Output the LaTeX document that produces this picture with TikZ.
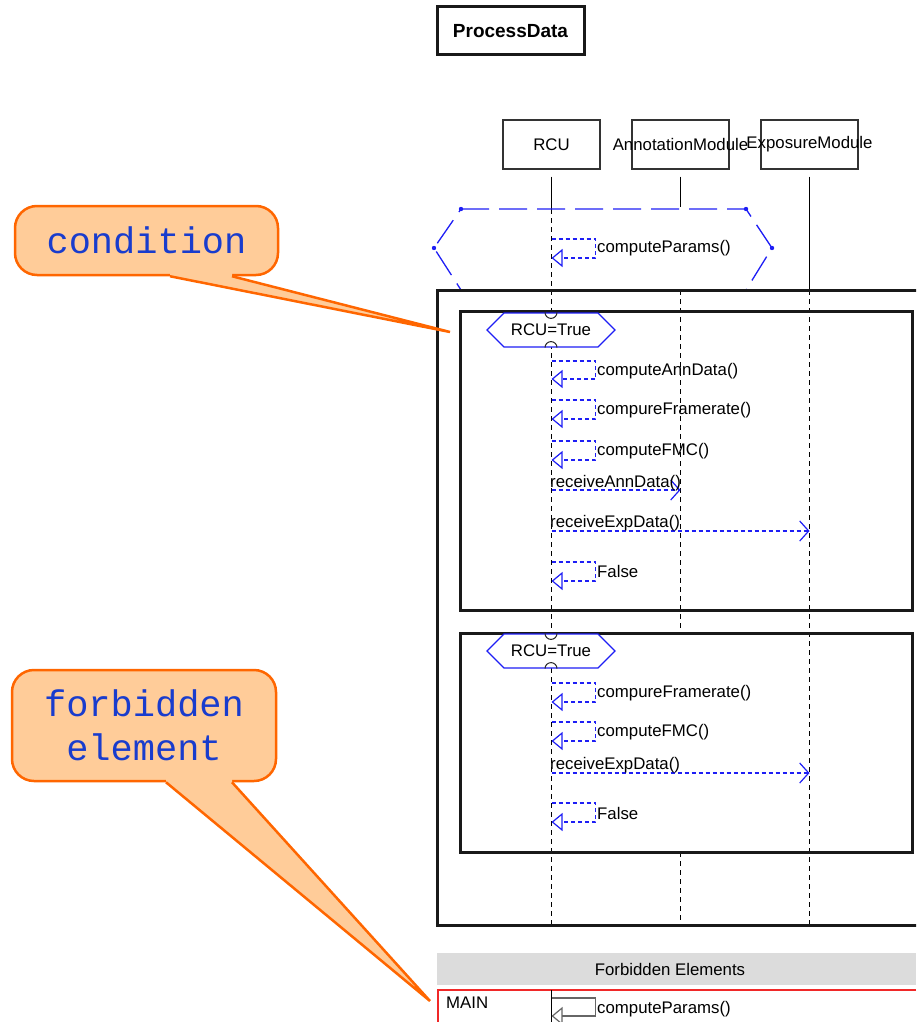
\documentclass[tikz,border=0pt]{standalone}
\usepackage{fontspec}
\setmainfont{Liberation Sans}
\newfontfamily\calloutfont{Liberation Mono}
\usetikzlibrary{arrows.meta,calc,positioning,shapes.symbols}

\definecolor{seqblue}{RGB}{30,30,245}
\definecolor{noteFill}{RGB}{255,204,153}
\definecolor{noteLine}{RGB}{255,102,0}
\definecolor{noteText}{RGB}{25,60,205}
\definecolor{forbGray}{RGB}{220,220,220}
\definecolor{forbRed}{RGB}{240,40,40}

\tikzset{
  frame/.style={draw=black!90,line width=3pt},
  objbox/.style={draw=black!80,line width=1.3pt,minimum width=97pt,minimum height=49pt,inner sep=0pt},
  lifehead/.style={draw=black,line width=1.5pt},
  lifeline/.style={draw=black,line width=1.5pt,dash pattern=on 5pt off 4pt},
  selfcall/.style={draw=seqblue,line width=1.2pt,dash pattern=on 4pt off 3pt,-{Triangle[open,length=11pt,width=18pt]}},
  sendcall/.style={draw=seqblue,line width=1.2pt,dash pattern=on 4pt off 3pt,-{Straight Barb[length=9pt,width=20pt]}},
  calltext/.style={inner sep=1pt},
  guard/.style={draw=seqblue,line width=1.2pt,fill=white,signal,signal to=east and west,signal pointer angle=90,
    minimum width=128pt,minimum height=34pt,inner sep=0pt},
  note/.style={draw=noteLine,fill=noteFill,line width=2.5pt,rounded corners=22pt,inner sep=0pt,
    text=noteText,align=center,font=\calloutfont\fontsize{37}{44}\selectfont},
  notetip/.style={draw=noteLine,line width=2.5pt},
}

\begin{document}
\begin{tikzpicture}[x=1pt,y=-1pt,font=\fontsize{16.8}{19}\selectfont]
\useasboundingbox (0,0) rectangle (916,1022);
\clip (0,0) rectangle (916,1022);

% Drawing title box
\node[draw=black!90,line width=3pt,minimum width=147pt,minimum height=48pt,
  font=\bfseries\fontsize{19}{21}\selectfont] (title) at (510.5,31) {ProcessData};

% Drawing objects
\node[objbox] (rcu) at (551.5,144.5) {RCU};
\node[objbox] (annot) at (680.5,144.5) {\makebox[97pt][c]{AnnotationModule}};
\node[objbox] (expo) at (809.5,144.5) {\makebox[97pt][c]{ExposureModule}};

% Drawing lifelines
\draw[lifehead] ([yshift=-7pt]rcu.south) -- (rcu.south |- 0,209);
\draw[lifeline] (rcu.south |- 0,209) -- (rcu.south |- 0,925);
\draw[lifehead] ([yshift=-7pt]annot.south) -- (annot.south |- 0,207);
\draw[lifeline] (annot.south |- 0,290) -- (annot.south |- 0,633);
\draw[lifeline] (annot.south |- 0,852) -- (annot.south |- 0,925);
\draw[lifehead] ([yshift=-7pt]expo.south) -- (expo.south |- 0,290);
\draw[lifeline] (expo.south |- 0,290) -- (expo.south |- 0,925);

% Drawing loop region
\draw[seqblue,line width=1.3pt,dash pattern=on 28pt off 10pt]
  (461,209) -- (746,209) -- (772,248) -- (746,290) -- (461,290) -- (434,248) -- cycle;
\foreach \px/\py in {461/209,746/209,772/248,434/248}
  \fill[seqblue] (\px,\py) circle (2.2pt);

% Drawing frames
\draw[frame] (940,290) -- (437,290) -- (437,925) -- (940,925);
\draw[frame] (460,311) rectangle (912,610);
\draw[frame] (460,633) rectangle (912,852);

% Marking guards
\node[guard] (cond1) at (551,330) {RCU=True};
\node[guard] (cond2) at (551,651) {RCU=True};
\foreach \g in {cond1,cond2}{
  \draw[black!85,line width=1pt] ([xshift=-6pt]\g.north) arc[start angle=180,end angle=360,radius=6pt];
  \draw[black!85,line width=1pt] ([xshift=-6pt]\g.south) arc[start angle=180,end angle=0,radius=6pt];
}

% Drawing self calls
\foreach \ya/\yb/\ym/\txt in {239/258/248/computeParams(),361/379/371/computeAnnData(),
    400/419/410/compureFramerate(),441/460/451/computeFMC(),562/581/571/False,
    683/702/693/compureFramerate(),722/741/732/computeFMC(),803/822/813/False}{
  \draw[selfcall] (rcu.south |- 0,\ya) -- ++(44,0) |- (rcu.south |- 0,\yb);
  \node[calltext,anchor=west] (msg-\ya) at (596,\ym) {\txt};
}

% Drawing calls to other objects
\draw[sendcall] (rcu.south |- 0,490) -- (annot.south |- 0,490);
\node[calltext,anchor=base west] (recv-ann) at (549,487) {receiveAnnData()};
\draw[sendcall] (rcu.south |- 0,531) -- (expo.south |- 0,531);
\node[calltext,anchor=base west] (recv-exp1) at (549,527) {receiveExpData()};
\draw[sendcall] (rcu.south |- 0,773) -- (expo.south |- 0,773);
\node[calltext,anchor=base west] (recv-exp2) at (549,769) {receiveExpData()};

% Drawing forbidden elements table
\fill[forbGray] (437,953) rectangle (916,985);
\node (forb-head) at (670,969) {Forbidden Elements};
\draw[forbRed,line width=1.5pt] (916,990) -- (438,990) -- (438,1022);
\node[anchor=west,inner sep=0pt] (main) at (446,1003) {MAIN};
\draw[black,line width=1.5pt] (rcu.south |- 0,990) -- (rcu.south |- 0,1022);
\draw[black!60,line width=1.2pt,-{Triangle[open,length=11pt,width=18pt]}]
  (rcu.south |- 0,998) -- ++(44,0) |- (rcu.south |- 0,1016);
\node[calltext,anchor=west] (forb-msg) at (596,1009) {computeParams()};

% Drawing callout condition
\node[note,minimum width=263pt,minimum height=69pt] (cond-note) at (146.5,240.5) {condition};
\coordinate (cond-tip) at (450,332);
\fill[noteFill] ($(cond-note.south)+(23.5,-4)$) -- ($(cond-note.south)+(23.5,0)$) -- (cond-tip)
  -- ($(cond-note.south)+(85.5,0)$) -- ($(cond-note.south)+(85.5,-4)$) -- cycle;
\draw[notetip] ($(cond-note.south)+(23.5,0)$) -- (cond-tip) -- ($(cond-note.south)+(85.5,0)$);

% Drawing callout forbidden element
\node[note,minimum width=264pt,minimum height=111pt] (forb-note) at (144,725.5) {forbidden\\element};
\coordinate (forb-tip) at (430,1001);
\fill[noteFill] ($(forb-note.south)+(22,-4)$) -- ($(forb-note.south)+(22,0)$) -- (forb-tip)
  -- ($(forb-note.south)+(88,0)$) -- ($(forb-note.south)+(88,-4)$) -- cycle;
\draw[notetip] ($(forb-note.south)+(22,0)$) -- (forb-tip) -- ($(forb-note.south)+(88,0)$);
\end{tikzpicture}
\end{document}
